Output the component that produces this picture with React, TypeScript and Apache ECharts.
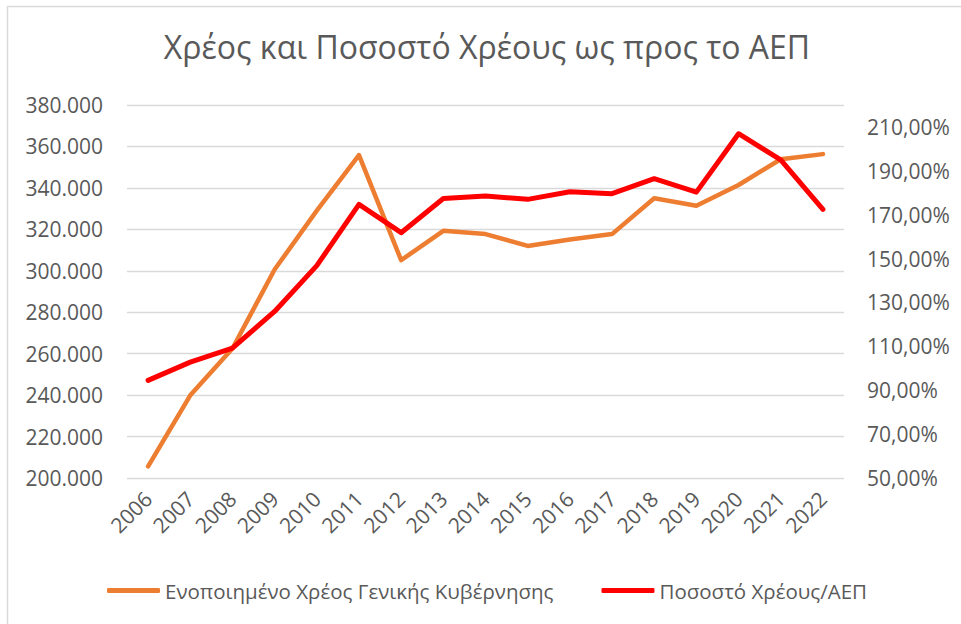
import React, { useEffect, useRef } from "react";
import * as echarts from "echarts";

const years = ["2006","2007","2008","2009","2010","2011","2012","2013","2014","2015","2016","2017","2018","2019","2020","2021","2022"];
// Consolidated general government debt (million €)
const debt = [205600, 239900, 262500, 300600, 329000, 355800, 305100, 319300, 317700, 312000, 315100, 317700, 335000, 331400, 341400, 353800, 356300];
// Debt-to-GDP ratio (%)
const ratio = [94.5, 102.8, 109.2, 125.9, 146.8, 174.7, 161.8, 177.4, 178.5, 177.0, 180.5, 179.6, 186.4, 180.3, 206.9, 195.0, 172.4];

const seriesNames = ["Ενοποιημένο Χρέος Γενικής Κυβέρνησης", "Ποσοστό Χρέους/ΑΕΠ"];
const titleText = "Χρέος και Ποσοστό Χρέους ως προς το ΑΕΠ";

const FONT = "'Open Sans', 'Noto Sans', sans-serif";
const TXT = "#595959";
const FS = 21;

const fmtThousands = (v: number) =>
  Math.round(v).toString().replace(/\B(?=(\d{3})+(?!\d))/g, ".");
const fmtPct = (v: number) => v.toFixed(2).replace(".", ",") + "%";

export default function App() {
  const ref = useRef<HTMLDivElement>(null);
  useEffect(() => {
    document.body.style.margin = "0";
    if (!ref.current) return;
    const chart = echarts.init(ref.current, undefined, { renderer: "svg" });
    chart.setOption({
      animation: false,
      backgroundColor: "#ffffff",
      textStyle: { fontFamily: FONT },
      graphic: [
        {
          type: "rect",
          shape: { x: 7.5, y: 6.5, width: 980, height: 640 },
          style: { fill: "none", stroke: "#d9d9d9", lineWidth: 1.5 },
          silent: true,
        },
        {
          type: "text",
          x: 487,
          y: 46,
          silent: true,
          style: {
            text: titleText,
            fontFamily: FONT,
            fontSize: 32,
            fill: TXT,
            textAlign: "center",
            textVerticalAlign: "middle",
          },
        },
      ],
      grid: { left: 127, right: 117, top: 105, bottom: 146 },
      legend: {
        left: 102,
        top: 575,
        itemGap: 48,
        itemWidth: 53,
        itemHeight: 5,
        icon: "roundRect",
        textStyle: { fontFamily: FONT, fontSize: 20.5, color: TXT },
        data: seriesNames,
      },
      xAxis: {
        type: "category",
        data: years,
        boundaryGap: true,
        axisLine: { show: false },
        axisTick: { show: false },
        axisLabel: {
          rotate: 45,
          interval: 0,
          margin: 17,
          fontFamily: FONT,
          fontSize: FS,
          color: TXT,
        },
      },
      yAxis: [
        {
          type: "value",
          min: 200000,
          max: 380000,
          interval: 20000,
          axisLine: { show: false },
          axisTick: { show: false },
          splitLine: { lineStyle: { color: "#d9d9d9", width: 1.3 } },
          axisLabel: {
            formatter: fmtThousands,
            margin: 24,
            fontFamily: FONT,
            fontSize: FS,
            color: TXT,
          },
        },
        {
          type: "value",
          min: 50,
          max: 220,
          interval: 20,
          position: "right",
          axisLine: { show: false },
          axisTick: { show: false },
          splitLine: { show: false },
          axisLabel: {
            formatter: fmtPct,
            showMaxLabel: false,
            margin: 23,
            fontFamily: FONT,
            fontSize: FS,
            color: TXT,
          },
        },
      ],
      series: [
        {
          name: seriesNames[0],
          type: "line",
          yAxisIndex: 0,
          data: debt,
          symbol: "none",
          itemStyle: { color: "#ED7D31" },
          lineStyle: { color: "#ED7D31", width: 4.5, join: "round", cap: "round" },
        },
        {
          name: seriesNames[1],
          type: "line",
          yAxisIndex: 1,
          data: ratio,
          symbol: "none",
          itemStyle: { color: "#FF0000" },
          lineStyle: { color: "#FF0000", width: 5, join: "round", cap: "round" },
        },
      ],
    });
    return () => chart.dispose();
  }, []);
  return <div ref={ref} style={{ width: 961, height: 624 }} />;
}
